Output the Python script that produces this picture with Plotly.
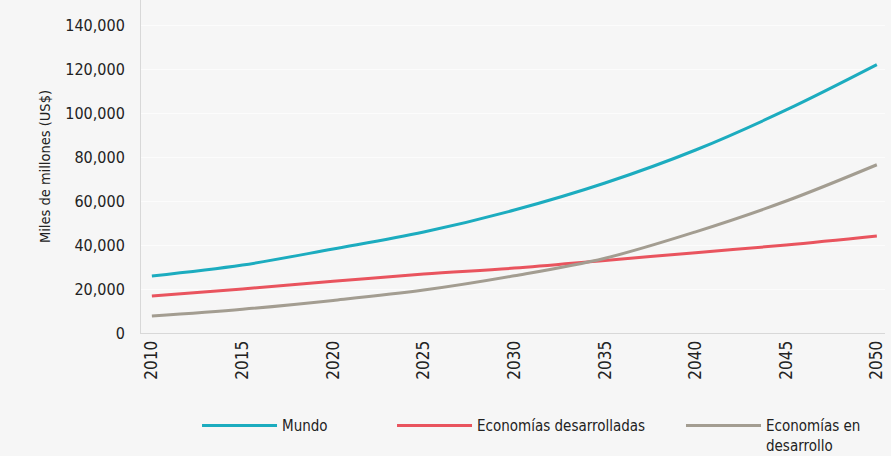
import plotly.graph_objects as go

years = [2010, 2015, 2020, 2025, 2030, 2035, 2040, 2045, 2050]
mundo = [25900, 30900, 38200, 45900, 55900, 68200, 83200, 101400, 122000]
desarrolladas = [16800, 20000, 23500, 26800, 29500, 33000, 36500, 40000, 44100]
en_desarrollo = [7700, 10800, 14800, 19500, 26000, 34000, 46000, 60000, 76500]

series_names = ["Mundo", "Economías desarrolladas", "Economías en<br>desarrollo"]
series_colors = ["#1cacbf", "#e9545e", "#a39d91"]
y_ticks = [0, 20000, 40000, 60000, 80000, 100000, 120000, 140000]
y_tick_text = ["0", "20,000", "40,000", "60,000", "80,000", "100,000", "120,000", "140,000"]

FONT = "Liberation Sans Narrow, DejaVu Sans Condensed, Arial Narrow, sans-serif"

legend_ids = ["legend", "legend2", "legend3"]
legend_x = [0.0753, 0.3374, 0.7258]

fig = go.Figure()
for name, vals, col, lid in zip(series_names, [mundo, desarrolladas, en_desarrollo], series_colors, legend_ids):
    fig.add_trace(go.Scatter(x=years, y=vals, name=name, mode="lines", legend=lid,
                             line=dict(color=col, width=3, shape="spline")))

leg_common = dict(orientation="h", xanchor="left", y=-0.229, yanchor="top",
                  itemwidth=75, font=dict(size=15, family=FONT, color="#222"),
                  bgcolor="rgba(0,0,0,0)", valign="top")

fig.update_layout(
    width=891, height=456,
    paper_bgcolor="#f6f6f6", plot_bgcolor="#f6f6f6",
    margin=dict(l=141, r=6, t=0, b=123, autoexpand=False),
    font=dict(family=FONT, size=14, color="#222"),
    showlegend=True,
    legend=dict(x=legend_x[0], **leg_common),
    legend2=dict(x=legend_x[1], **leg_common),
    legend3=dict(x=legend_x[2], **leg_common),
    xaxis=dict(range=[2009.4, 2050.45], tickvals=years, tickangle=-90, automargin=False,
               showgrid=False, zeroline=False, showline=True, linecolor="#d8d8d8",
               linewidth=1, ticks="", tickfont=dict(size=17, family=FONT)),
    yaxis=dict(range=[0, 151400], tickvals=y_ticks, ticktext=y_tick_text, automargin=False,
               showgrid=True, gridcolor="#fcfcfc", zeroline=False, showline=True,
               linecolor="#d8d8d8", linewidth=1, ticks="", ticklabelstandoff=12,
               tickfont=dict(size=16, family=FONT),
               title=dict(text="Miles de millones (US$)", font=dict(size=14.5, family=FONT), standoff=11)),
)

fig.write_html("out.html", config={"displayModeBar": False},
               post_script="document.body.style.margin='0';document.body.style.background='#f6f6f6';")
